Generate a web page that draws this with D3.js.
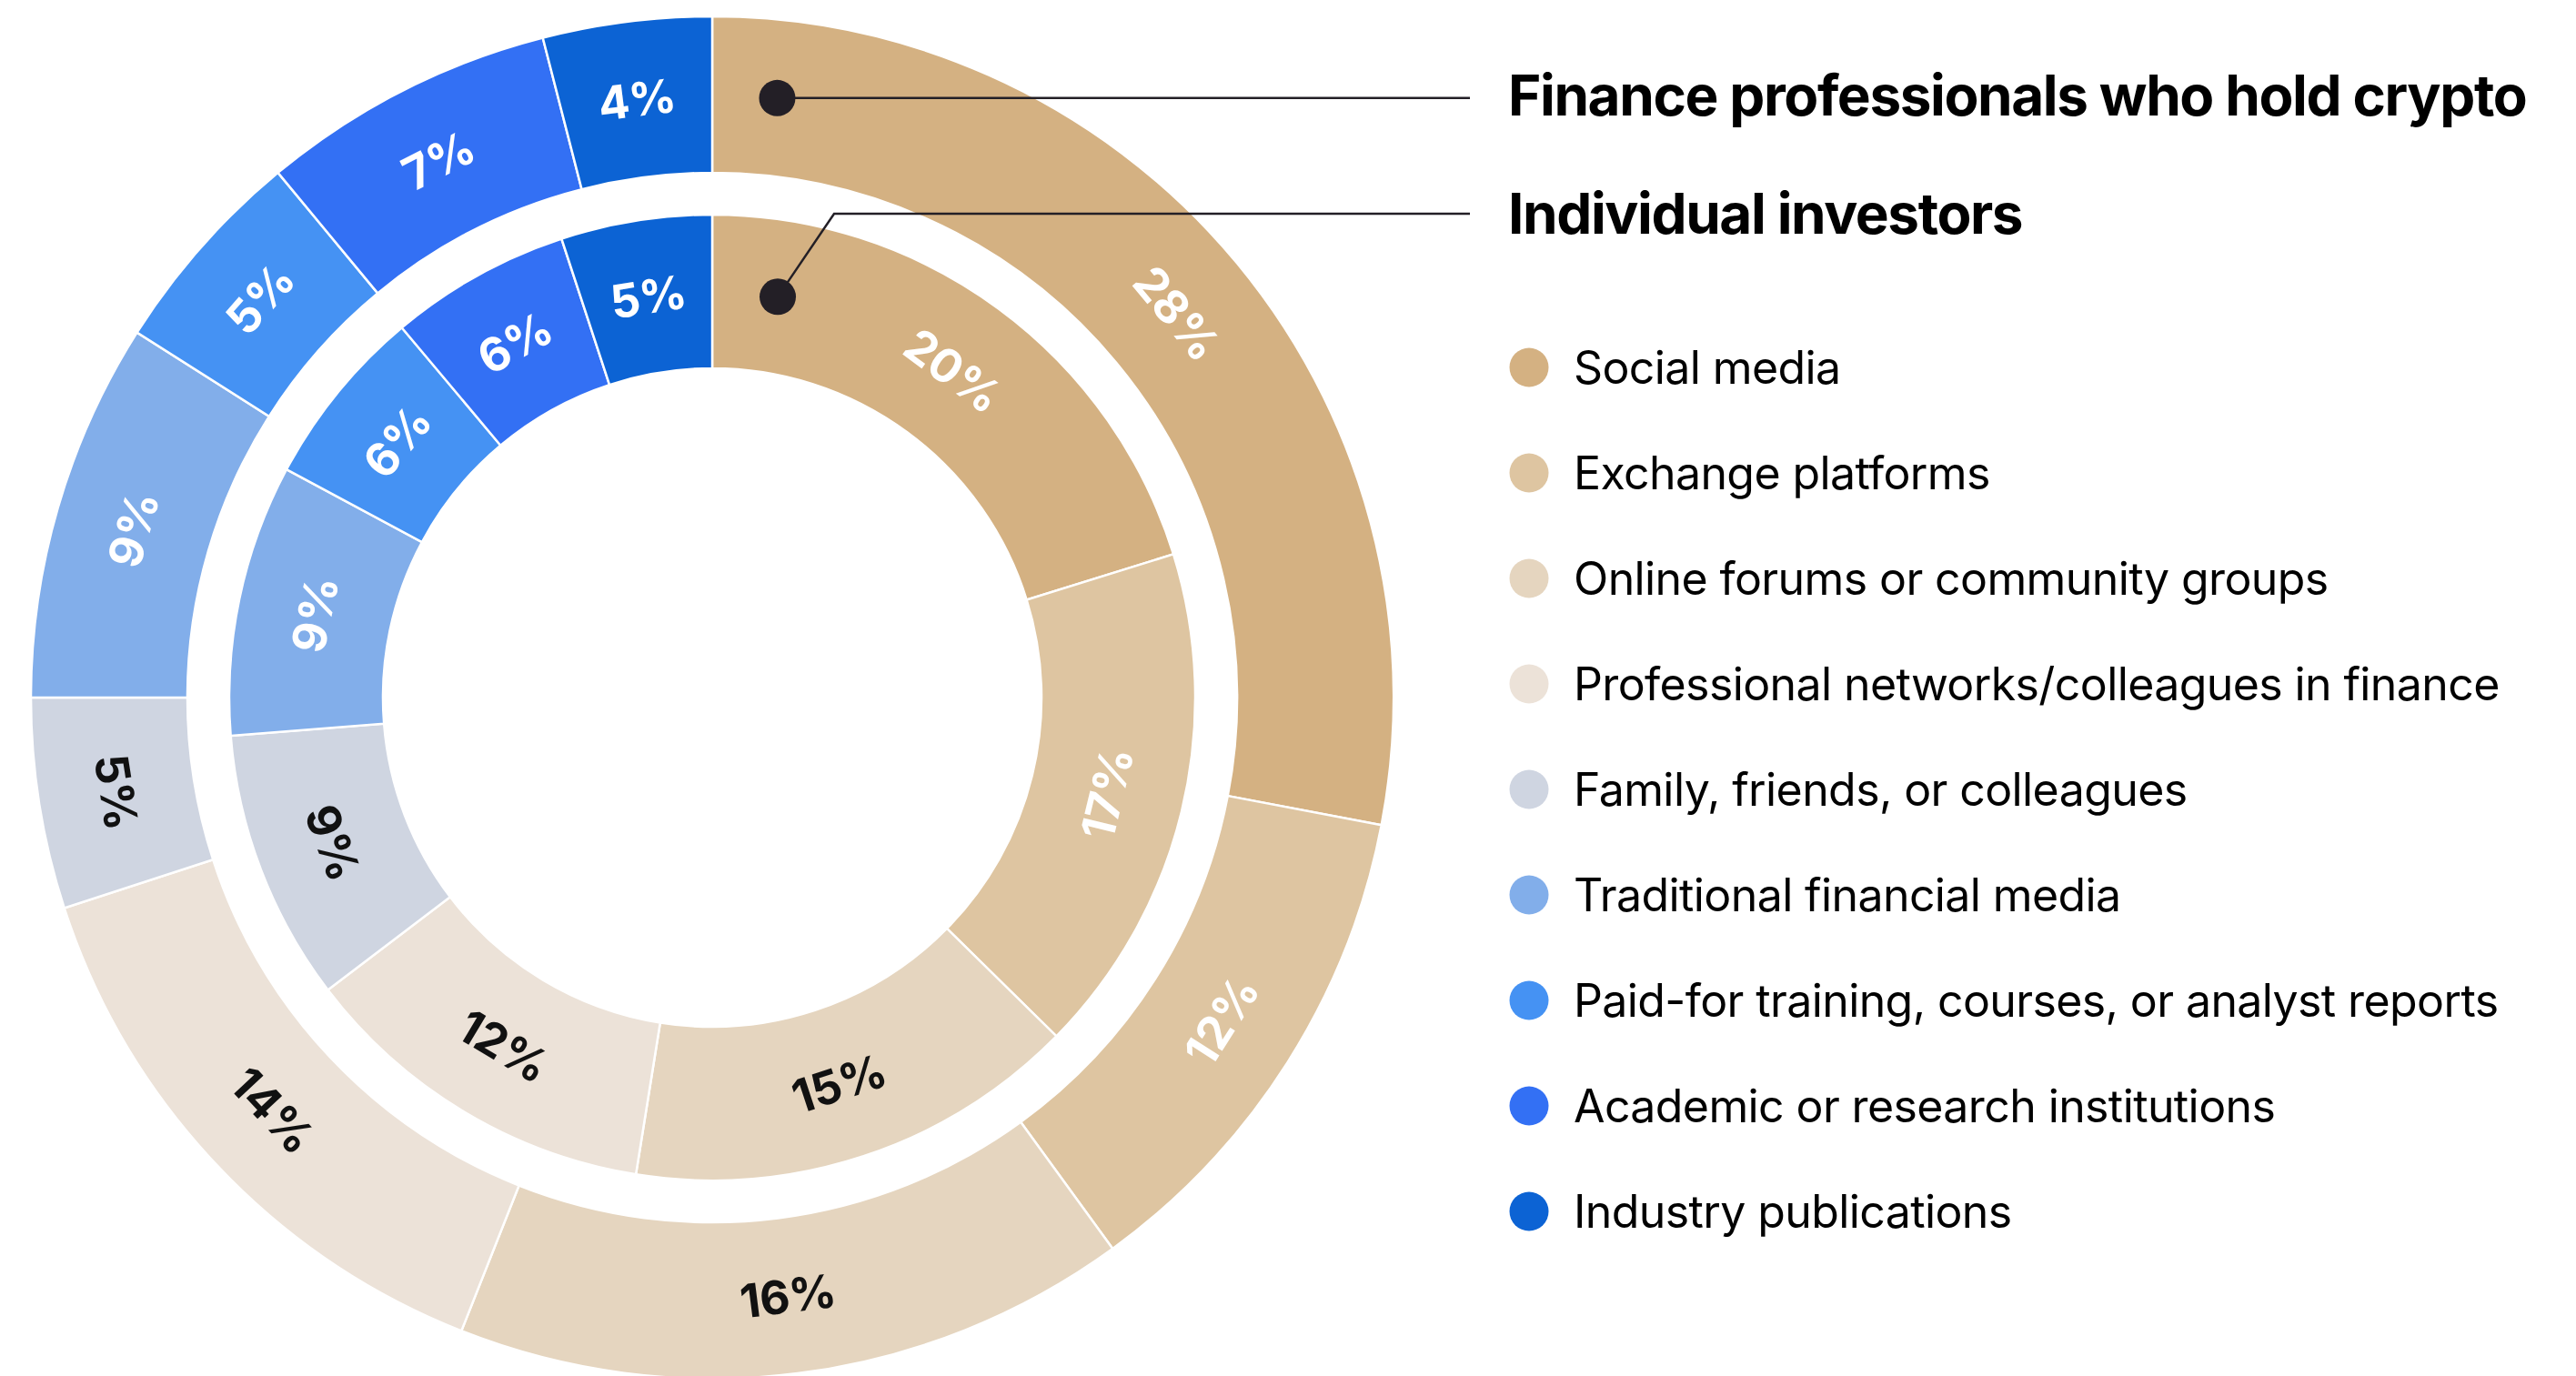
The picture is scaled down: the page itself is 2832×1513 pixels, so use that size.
<!DOCTYPE html>
<html>
<head>
<meta charset="utf-8">
<script src="https://cdn.jsdelivr.net/npm/d3@7"></script>
<style>
  html, body { margin: 0; padding: 0; background: #fff; }
  svg { display: block; font-family: Inter, "Noto Sans", sans-serif; }
</style>
</head>
<body>
<svg id="chart"></svg>
<script>
// categories, outer ring = finance professionals, inner ring = individual investors
const categories = [
  "Social media",
  "Exchange platforms",
  "Online forums or community groups",
  "Professional networks/colleagues in finance",
  "Family, friends, or colleagues",
  "Traditional financial media",
  "Paid-for training, courses, or analyst reports",
  "Academic or research institutions",
  "Industry publications"
];
const financePros = [28, 12, 16, 14, 5, 9, 5, 7, 4];
const individuals = [20, 17, 15, 12, 9, 9, 6, 6, 5];
const seriesNames = ["Finance professionals who hold crypto", "Individual investors"];

const palette = ["#D4B182", "#DEC5A1", "#E5D5BF", "#ECE2D8", "#CFD5E1",
                 "#82AEEA", "#4592F3", "#3370F4", "#0C63D4"];

const W = 2832, H = 1513;
const cx = 783, cy = 767;
const rings = [
  { values: financePros, inner: 577, outer: 749, callAngle: 0.108 },
  { values: individuals, inner: 362, outer: 531, callAngle: 0.162 }
];

const svg = d3.select("#chart").attr("width", W).attr("height", H);
const g = svg.append("g").attr("transform", `translate(${cx},${cy})`);

const color = d3.scaleOrdinal().domain(categories).range(palette);
const pie = d3.pie().value(d => d).sort(null);

// label text is dark on the pale slices, white on the rest
const labelFill = c => d3.hsl(c).l > 0.8 ? "#111" : "#fff";

rings.forEach(ring => {
  const arc = d3.arc().innerRadius(ring.inner).outerRadius(ring.outer);
  const arcs = pie(ring.values);
  const slice = g.append("g").selectAll("g")
    .data(arcs)
    .enter()
    .append("g");

  slice.append("path")
    .attr("d", arc)
    .attr("fill", (d, i) => color(categories[i]))
    .attr("stroke", "#fff")
    .attr("stroke-width", 2.5);

  slice.append("text")
    .attr("transform", d => {
      const [x, y] = arc.centroid(d);
      const a = (d.startAngle + d.endAngle) / 2 * 180 / Math.PI;
      const rot = a < 90 ? a : a < 270 ? a - 180 : a - 360;
      return `translate(${x},${y}) rotate(${rot})`;
    })
    .attr("text-anchor", "middle")
    .attr("dominant-baseline", "central")
    .attr("font-size", 51)
    .attr("font-weight", 700)
    .attr("letter-spacing", -0.5)
    .attr("fill", (d, i) => labelFill(color(categories[i])))
    .text(d => `${d.data}%`);
});

// callouts from the first slice of each ring to the series titles
const lineEnd = 1616;
const titleX = 1658;
const outerDot = d3.pointRadial(rings[0].callAngle, (rings[0].inner + rings[0].outer) / 2);
const innerDot = d3.pointRadial(rings[1].callAngle, (rings[1].inner + rings[1].outer) / 2);
const titleY = [outerDot[1] + cy, 235];

const callouts = svg.append("g");
callouts.append("path")
  .attr("d", `M${outerDot[0] + cx},${outerDot[1] + cy}H${lineEnd}`)
  .attr("fill", "none").attr("stroke", "#231f26").attr("stroke-width", 2.5);
callouts.append("path")
  .attr("d", `M${innerDot[0] + cx},${innerDot[1] + cy}L917,${titleY[1]}H${lineEnd}`)
  .attr("fill", "none").attr("stroke", "#231f26").attr("stroke-width", 2.5);
[outerDot, innerDot].forEach(p => {
  callouts.append("circle")
    .attr("cx", p[0] + cx).attr("cy", p[1] + cy).attr("r", 20)
    .attr("fill", "#231f26");
});

svg.append("g").selectAll("text")
  .data(seriesNames)
  .enter()
  .append("text")
  .attr("x", titleX)
  .attr("y", (d, i) => [127, 257][i])
  .attr("font-size", 62)
  .attr("font-weight", 700)
  .attr("letter-spacing", -1.4)
  .attr("fill", "#000")
  .text(d => d);

// legend
const legend = svg.append("g").attr("transform", "translate(1681,404)");
const row = legend.selectAll("g")
  .data(categories)
  .enter()
  .append("g")
  .attr("transform", (d, i) => `translate(0,${i * 116})`);
row.append("circle").attr("r", 21.5).attr("fill", d => color(d));
row.append("text")
  .attr("x", 49)
  .attr("y", 18)
  .attr("font-size", 50)
  .attr("font-weight", 400)
  .attr("letter-spacing", -0.6)
  .attr("fill", "#000")
  .text(d => d);
</script>
</body>
</html>
